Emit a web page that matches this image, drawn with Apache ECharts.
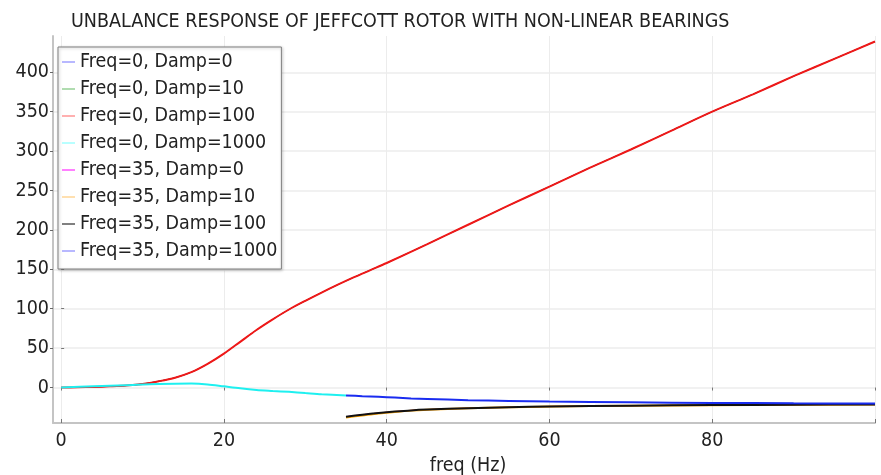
<!DOCTYPE html>
<html>
<head>
<meta charset="utf-8">
<script src="https://cdn.jsdelivr.net/npm/echarts@6/dist/echarts.min.js"></script>
<style>html,body{margin:0;padding:0;background:#fff;}#c{width:881px;height:475px;}</style>
</head>
<body>
<div id="c"></div>
<script>
const seriesNames = ['Freq=0, Damp=0','Freq=0, Damp=10','Freq=0, Damp=100','Freq=0, Damp=1000',
  'Freq=35, Damp=0','Freq=35, Damp=10','Freq=35, Damp=100','Freq=35, Damp=1000'];
const xTicks = [0,20,40,60,80,100];
const xLabels = [0,20,40,60,80];
const yTicks = [0,50,100,150,200,250,300,350,400];

const freqA = [0,2,4,6,8,10,12,14,16,18,20,22,24,26,28,30,32,34,36,38,40,45,50,55,60,65,70,75,80,85,90,95,100];
const damp100A = [0,0.3,0.8,1.5,2.5,4.5,8,12.5,19.5,30,43,58,73,86.5,99,110,120.5,130.5,140,149,158,182,206.5,231,255,279,302,326,350,372,395,417,439];
const freqC = [0,4,8,12,16,18,20,22,24,26,28,30,32,35];
const damp1000A = [0,1.5,3,4.5,5,4,1.5,-1,-3,-4.3,-5.5,-7,-8.5,-10];
const freqB = [35,37,39,41,43,45,50,55,60,70,80,90,100];
const damp1000B = [-10,-11,-11.8,-12.8,-13.8,-14.5,-16,-17,-17.8,-18.8,-19.5,-20,-20.3];
const damp100B = [-37,-34.5,-32.3,-30.5,-29,-28,-26.2,-25,-24,-23,-22.3,-21.8,-21.4];
const damp10B = [-38,-35.5,-33,-31,-29.3,-28.2,-26.4,-25.1,-24.1,-23.1,-22.4,-21.9,-21.5];
const damp0B = damp100B;
const damp0A = damp100A;
const damp10A = damp100A;

const lineColors = ['#0000ff','#00b000','#f01818','#1ef0f0','#ff00ff','#ffa500','#111111','#1a2cf0'];
const lineWidths = [1, 1, 2, 2, 1, 2, 2, 2];
const legendColors = ['#b8b8ff','#b0dcb0','#ffb0b0','#b8ffff','#ff80ff','#ffe0b0','#808080','#b8b8ff'];

function pairs(xs, ys){ return xs.map((x,i)=>[x, ys[i]]); }
const dataSets = [
  pairs(freqA, damp0A), pairs(freqA, damp10A), pairs(freqA, damp100A), pairs(freqC, damp1000A),
  pairs(freqB, damp0B), pairs(freqB, damp10B), pairs(freqB, damp100B), pairs(freqB, damp1000B)
];

const FONT = 'DejaVu Sans Condensed, DejaVu Sans, sans-serif';
const FS = 19.5;
const chart = echarts.init(document.getElementById('c'), null, {renderer:'canvas'});
chart.setOption({
  animation: false,
  backgroundColor: '#fff',
  title: {
    text: 'UNBALANCE RESPONSE OF JEFFCOTT ROTOR WITH NON-LINEAR BEARINGS',
    left: 66, top: 7,
    textStyle: {fontFamily: FONT, fontSize: FS, fontWeight: 'normal', color: '#222'}
  },
  grid: {left: 53, right: 6, top: 36, bottom: 52, containLabel: false, outerBoundsMode: 'none'},
  legend: {
    orient: 'vertical', left: 58, top: 47,
    padding: [5, 4, 8, 4],
    backgroundColor: '#fff', borderColor: '#808080', borderWidth: 1,
    shadowColor: 'rgba(0,0,0,0.25)', shadowBlur: 3, shadowOffsetX: 1, shadowOffsetY: 1,
    icon: 'rect', itemWidth: 13, itemHeight: 2, itemGap: 7,
    textStyle: {fontFamily: FONT, fontSize: FS, color: '#222', lineHeight: 19},
    data: seriesNames.map((n,i)=>({name: n, itemStyle: {color: legendColors[i]}}))
  },
  xAxis: [{
    type: 'value', min: -1, max: 100,
    name: 'freq (Hz)', nameLocation: 'middle', nameGap: 32,
    nameTextStyle: {fontFamily: FONT, fontSize: FS, color: '#222', padding: [0, 0, 0, 8]},
    axisLine: {show: true, onZero: false, lineStyle: {color: '#c4c4c4', width: 2}},
    axisTick: {show: true, inside: true, length: 4, customValues: xTicks, lineStyle: {color: '#777'}},
    axisLabel: {customValues: xLabels, fontFamily: FONT, fontSize: FS, color: '#222', margin: 8},
    splitLine: {show: true, lineStyle: {color: '#ececec', width: 1}}
  }, {
    type: 'value', position: 'top', min: -1, max: 100,
    axisLine: {show: false},
    axisTick: {show: true, inside: true, length: 3, customValues: xTicks, lineStyle: {color: '#777'}},
    axisLabel: {show: false}, splitLine: {show: false}
  }],
  yAxis: [{
    type: 'value', min: -45, max: 446,
    axisLine: {show: true, onZero: false, lineStyle: {color: '#c4c4c4', width: 2}},
    axisTick: {show: true, inside: false, length: 3, customValues: yTicks, lineStyle: {color: '#666'}},
    axisLabel: {customValues: yTicks, fontFamily: FONT, fontSize: FS, color: '#222', margin: 4},
    splitLine: {show: true, lineStyle: {color: '#ececec', width: 1.5}}
  }, {
    type: 'value', position: 'right', min: -45, max: 446,
    axisLine: {show: false},
    axisTick: {show: true, inside: false, length: 3, customValues: yTicks, lineStyle: {color: '#777'}},
    axisLabel: {show: false}, splitLine: {show: false}
  }],
  series: dataSets.map((d,i)=>({
    name: seriesNames[i], type: 'line', data: d, xAxisIndex: 0, yAxisIndex: 0,
    showSymbol: false, smooth: 0.3,
    lineStyle: {color: lineColors[i], width: lineWidths[i]},
    itemStyle: {color: lineColors[i]}
  }))
});
</script>
</body>
</html>
